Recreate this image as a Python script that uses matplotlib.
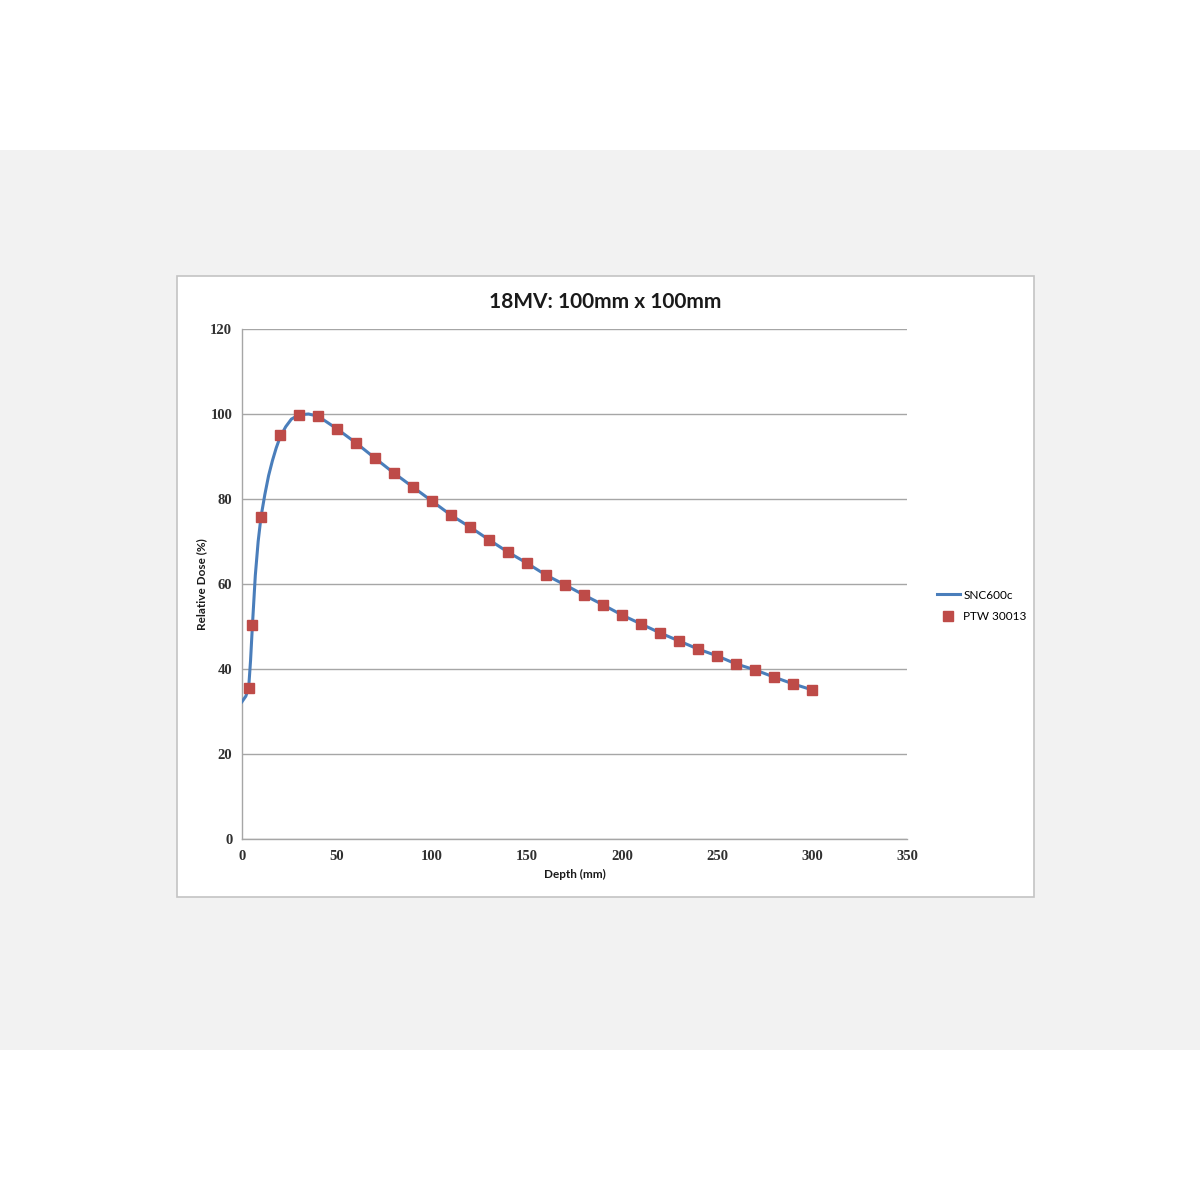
import matplotlib
matplotlib.use("Agg")
import matplotlib.pyplot as plt
from matplotlib.patches import Rectangle
from matplotlib.lines import Line2D

# ---- data ----
snc_depth = [0, 2, 3.5, 4.5, 5.5, 7, 8.5, 10, 12, 14, 16, 18, 20, 23, 26, 30, 35, 40,
             50, 60, 70, 80, 90, 100, 110, 120, 130, 140, 150, 160, 170, 180, 190,
             200, 210, 220, 230, 240, 250, 260, 270, 280, 290, 300]
snc_dose = [32.3, 33.6, 35.5, 42.0, 50.4, 62.0, 70.0, 75.8, 81.0, 85.5, 89.0, 92.0, 94.5,
            97.0, 98.8, 99.8, 100.0, 99.5,
            96.5, 93.2, 89.6, 86.1, 82.8, 79.5, 76.2, 73.4, 70.4, 67.5, 64.9, 62.1,
            59.8, 57.4, 55.1, 52.7, 50.6, 48.5, 46.6, 44.7, 43.1, 41.2, 39.8, 38.1,
            36.5, 35.1]

ptw_depth = [3.5, 5.5, 10, 20, 30, 40, 50, 60, 70, 80, 90, 100, 110, 120, 130, 140, 150,
             160, 170, 180, 190, 200, 210, 220, 230, 240, 250, 260, 270, 280, 290, 300]
ptw_dose = [35.5, 50.4, 75.8, 95.1, 99.8, 99.5, 96.5, 93.2, 89.6, 86.1, 82.8, 79.5, 76.2,
            73.4, 70.4, 67.5, 64.9, 62.1, 59.8, 57.4, 55.1, 52.7, 50.6, 48.5, 46.6, 44.7,
            43.1, 41.2, 39.8, 38.1, 36.5, 35.1]

title = "18MV: 100mm x 100mm"
x_label = "Depth (mm)"
y_label = "Relative Dose (%)"
x_ticks = [0, 50, 100, 150, 200, 250, 300, 350]
y_ticks = [0, 20, 40, 60, 80, 100, 120]

W = H = 1200
fig = plt.figure(figsize=(12, 12), dpi=100)
fig.patch.set_facecolor("white")

def fx(px):
    return px / W

def fy(py):
    return 1 - py / H

# grey band
fig.add_artist(Rectangle((0, fy(1050)), 1, fy(150) - fy(1050), transform=fig.transFigure,
                         facecolor="#f2f2f2", edgecolor="none", zorder=0))
# chart box
fig.add_artist(Rectangle((fx(177), fy(897)), fx(1034) - fx(177), fy(276) - fy(897),
                         transform=fig.transFigure, facecolor="white",
                         edgecolor="#c4c4c4", linewidth=1.2, zorder=1))

ax = fig.add_axes([fx(242), fy(839), fx(907) - fx(242), fy(329) - fy(839)])
ax.set_zorder(2)
ax.set_facecolor("none")

ax.plot(snc_depth, snc_dose, color="#4a7ebb", linewidth=2.2, label="SNC600c", zorder=3)
ax.plot(ptw_depth, ptw_dose, linestyle="none", marker="s", markersize=7.5,
        markerfacecolor="#be4b48", markeredgecolor="#be4b48", label="PTW 30013", zorder=4)

ax.set_xlim(0, 350)
ax.set_ylim(0, 120)
ax.set_xticks(x_ticks)
ax.set_yticks(y_ticks)
ax.yaxis.grid(True, color="#a6a6a6", linewidth=1.0)
ax.set_axisbelow(True)
for s in ["top", "right"]:
    ax.spines[s].set_visible(False)
for s in ["left", "bottom"]:
    ax.spines[s].set_color("#a6a6a6")
    ax.spines[s].set_linewidth(1.0)
ax.tick_params(axis="both", length=0)
for lab in ax.get_xticklabels() + ax.get_yticklabels():
    lab.set_fontfamily("Liberation Serif")
    lab.set_fontsize(10.5)
    lab.set_fontweight("bold")
    lab.set_color("#303030")
ax.tick_params(axis="x", pad=8)
ax.tick_params(axis="y", pad=7)

fig.text(fx(605), fy(302), title, ha="center", va="center", fontsize=15,
         fontweight="bold", family="Lato", color="#1a1a1a")
fig.text(fx(575), fy(874), x_label, ha="center", va="center", fontsize=8.5,
         fontweight="bold", family="Lato", color="#1a1a1a")
fig.text(fx(202), fy(584), y_label, ha="center", va="center", fontsize=8.5,
         fontweight="bold", family="Lato", color="#1a1a1a", rotation=90)

# legend
handles = [Line2D([0], [0], color="#4a7ebb", linewidth=2.2),
           Line2D([0], [0], linestyle="none", marker="s", markersize=7.5,
                  markerfacecolor="#be4b48", markeredgecolor="#be4b48")]
leg = fig.legend(handles, ["SNC600c", "PTW 30013"], loc="upper left",
                 bbox_to_anchor=(fx(926), fy(579)), frameon=False,
                 prop={"family": "Lato", "size": 8.5}, handlelength=2.0,
                 handletextpad=0.25, labelspacing=0.85)

fig.savefig("out.png", dpi=100, facecolor="white")
